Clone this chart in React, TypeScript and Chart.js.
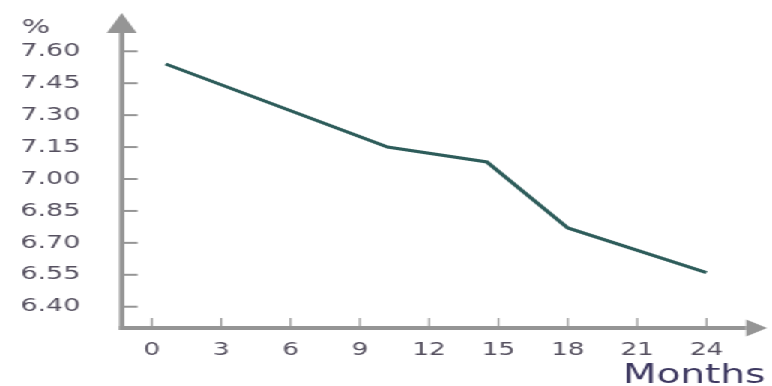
import React, { useEffect, useRef } from "react";
import { Chart, registerables } from "chart.js";

Chart.register(...registerables);

// Rate (%) over time (months)
const months = [0.6, 10.2, 14.5, 18, 24];
const rates = [7.54, 7.15, 7.08, 6.77, 6.56];
const xTicks = [0, 3, 6, 9, 12, 15, 18, 21, 24];
const yTicks = [6.4, 6.55, 6.7, 6.85, 7.0, 7.15, 7.3, 7.45, 7.6];

const AXIS = "#959595";
const LABEL = "#55505f";
const TITLE = "#3d3860";
const LINE = "#2d5c5a";
const FONT = "'DejaVu Sans', Verdana, sans-serif";

// Canvas is drawn narrow and widened with CSS to get the broad lettering.
const CANVAS_W = 515;
const CANVAS_H = 386;
const STRETCH = 772 / CANVAS_W;

const arrowAxes = {
  id: "arrowAxes",
  afterDraw(chart: any) {
    const { ctx, chartArea, scales } = chart;
    const xs = scales.x;
    const ys = scales.y;
    const ox = chartArea.left;
    const oy = chartArea.bottom;
    ctx.save();
    ctx.strokeStyle = AXIS;
    ctx.fillStyle = AXIS;
    ctx.lineCap = "butt";

    // vertical axis with arrow
    const yTip = chartArea.top - 17;
    const yBase = chartArea.top + 3;
    ctx.lineWidth = 3.5;
    ctx.beginPath();
    ctx.moveTo(ox, oy + 2);
    ctx.lineTo(ox, yBase);
    ctx.stroke();
    ctx.beginPath();
    ctx.moveTo(ox, yTip);
    ctx.lineTo(ox - 10, yBase);
    ctx.lineTo(ox + 10, yBase);
    ctx.closePath();
    ctx.fill();

    // horizontal axis with arrow
    const xBase = chartArea.right + 11;
    const xTip = chartArea.right + 25;
    ctx.lineWidth = 4;
    ctx.beginPath();
    ctx.moveTo(ox - 1.75, oy);
    ctx.lineTo(xBase, oy);
    ctx.stroke();
    ctx.beginPath();
    ctx.moveTo(xTip, oy);
    ctx.lineTo(xBase, oy - 8.5);
    ctx.lineTo(xBase, oy + 8.5);
    ctx.closePath();
    ctx.fill();

    // tick marks
    ctx.lineWidth = 2;
    ys.ticks.forEach((t: any) => {
      const py = ys.getPixelForValue(t.value);
      ctx.beginPath();
      ctx.moveTo(ox + 1.5, py);
      ctx.lineTo(ox + 10.5, py);
      ctx.stroke();
    });
    ctx.lineWidth = 1.2;
    xs.ticks.forEach((t: any) => {
      const px = xs.getPixelForValue(t.value);
      ctx.beginPath();
      ctx.moveTo(px, oy - 2);
      ctx.lineTo(px, oy - 10);
      ctx.stroke();
    });

    // axis captions
    ctx.textBaseline = "middle";
    ctx.textAlign = "left";
    ctx.fillStyle = LABEL;
    ctx.font = `20px ${FONT}`;
    ctx.fillText("%", 14.5, 28);
    ctx.fillStyle = TITLE;
    ctx.font = `26px ${FONT}`;
    ctx.fillText("Months", 415.5, 376);
    ctx.restore();
  },
};

export default function App() {
  const ref = useRef<HTMLCanvasElement>(null);

  useEffect(() => {
    if (!ref.current) return;
    const chart = new Chart(ref.current, {
      type: "line",
      data: {
        datasets: [
          {
            data: months.map((m, i) => ({ x: m, y: rates[i] })),
            borderColor: LINE,
            borderWidth: 3,
            pointRadius: 0,
            tension: 0,
            fill: false,
          },
        ],
      },
      options: {
        responsive: false,
        animation: false,
        devicePixelRatio: 1,
        layout: { padding: { left: 0, right: 28.3, top: 30, bottom: 0 } },
        plugins: {
          legend: { display: false },
          tooltip: { enabled: false },
        },
        scales: {
          x: {
            type: "linear",
            min: -1.3,
            max: 25,
            grid: { display: false, drawTicks: false },
            border: { display: false },
            afterBuildTicks: (s: any) => {
              s.ticks = xTicks.map((v) => ({ value: v }));
            },
            afterFit: (s: any) => {
              s.height = 58;
              s.paddingLeft = 0;
              s.paddingRight = 0;
            },
            ticks: {
              autoSkip: false,
              maxRotation: 0,
              padding: 12,
              color: LABEL,
              font: { family: FONT, size: 17.5 },
              callback: (v: any) => String(v),
            },
          },
          y: {
            type: "linear",
            min: 6.3,
            max: 7.7,
            grid: { display: false, drawTicks: false },
            border: { display: false },
            afterBuildTicks: (s: any) => {
              s.ticks = yTicks.map((v) => ({ value: v }));
            },
            afterFit: (s: any) => {
              s.width = 81.26;
              s.paddingTop = 0;
              s.paddingBottom = 0;
            },
            ticks: {
              autoSkip: false,
              padding: 27.5,
              color: LABEL,
              font: { family: FONT, size: 18 },
              callback: (v: any) => Number(v).toFixed(2),
            },
          },
        },
      },
      plugins: [arrowAxes],
    });
    return () => chart.destroy();
  }, []);

  return (
    <div
      style={{
        position: "absolute",
        left: 0,
        top: 0,
        width: CANVAS_W,
        height: CANVAS_H,
        transform: `scaleX(${STRETCH})`,
        transformOrigin: "0 0",
        background: "#fff",
      }}
    >
      <canvas ref={ref} width={CANVAS_W} height={CANVAS_H} />
    </div>
  );
}
